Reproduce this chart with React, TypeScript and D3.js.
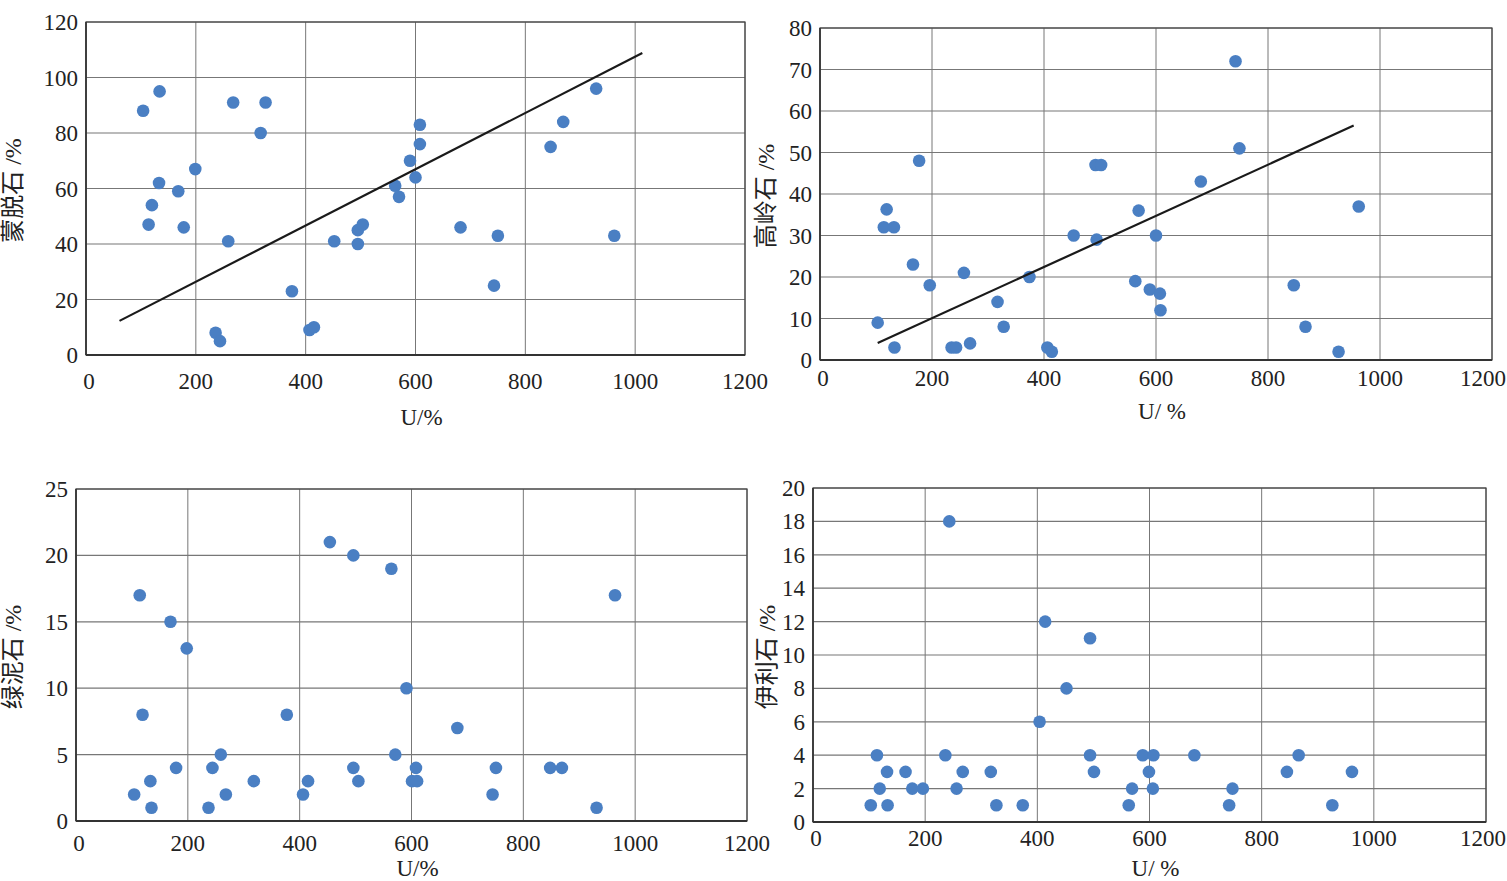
import React, { useEffect, useRef } from 'react';
import * as d3 from 'd3';

// 蒙脱石 (montmorillonite) vs U
const montU = [104, 134, 268, 327, 318, 608, 608, 590, 600, 563, 570, 199, 133, 168, 120, 114, 178, 259, 452, 495, 504, 495, 682, 750, 962, 743, 846, 869, 929, 375, 236, 244, 407, 415];
const montV = [88, 95, 91, 91, 80, 83, 76, 70, 64, 61, 57, 67, 62, 59, 54, 47, 46, 41, 41, 45, 47, 40, 46, 43, 43, 25, 75, 84, 96, 23, 8, 5, 9, 10];
const montTrend = [[61, 12.3], [1013, 108.8]];

// 高岭石 (kaolinite) vs U
const kaolU = [742, 749, 492, 502, 177, 680, 962, 569, 119, 114, 132, 453, 494, 600, 166, 257, 374, 196, 563, 589, 607, 608, 846, 317, 103, 328, 867, 133, 235, 243, 268, 406, 414, 926];
const kaolV = [72, 51, 47, 47, 48, 43, 37, 36, 36.3, 32, 32, 30, 29, 30, 23, 21, 20, 18, 19, 17, 16, 12, 18, 14, 9, 8, 8, 3, 3, 3, 4, 3, 2, 2];
const kaolTrend = [[103, 4.1], [953, 56.5]];

// 绿泥石 (chlorite) vs U
const chloU = [114, 169, 198, 454, 496, 564, 964, 591, 119, 377, 682, 259, 571, 179, 244, 496, 608, 751, 848, 869, 133, 318, 415, 505, 601, 610, 104, 268, 406, 745, 135, 237, 931];
const chloV = [17, 15, 13, 21, 20, 19, 17, 10, 8, 8, 7, 5, 5, 4, 4, 4, 4, 4, 4, 4, 3, 3, 3, 3, 3, 3, 2, 2, 2, 2, 1, 1, 1];

// 伊利石 (illite) vs U
const illU = [243, 414, 494, 452, 404, 114, 236, 494, 588, 607, 680, 866, 132, 165, 267, 317, 501, 599, 845, 961, 119, 177, 196, 256, 569, 606, 748, 103, 133, 327, 374, 563, 742, 926];
const illV = [18, 12, 11, 8, 6, 4, 4, 4, 4, 4, 4, 4, 3, 3, 3, 3, 3, 3, 3, 3, 2, 2, 2, 2, 2, 2, 2, 1, 1, 1, 1, 1, 1, 1];

const xTicks = [0, 200, 400, 600, 800, 1000, 1200];

const FONT = "'Liberation Serif', 'DejaVu Serif', 'Noto Sans CJK SC', serif";
const DOT = '#4a7fc3';

interface Panel {
  u: number[];
  v: number[];
  trend?: number[][];
  yMax: number;
  yStep: number;
  yTitle: string;
  xTitle: string;
  box: { l: number; r: number; t: number; b: number };
  xLabelY: number;
  xTitleY: number;
  yTitleX: number;
}

const panels: Panel[] = [
  {
    u: montU, v: montV, trend: montTrend, yMax: 120, yStep: 20,
    yTitle: '蒙脱石 /%', xTitle: 'U/%',
    box: { l: 86, r: 745, t: 22, b: 355 }, xLabelY: 389, xTitleY: 425, yTitleX: 13,
  },
  {
    u: kaolU, v: kaolV, trend: kaolTrend, yMax: 80, yStep: 10,
    yTitle: '高岭石 /%', xTitle: 'U/ %',
    box: { l: 820, r: 1492, t: 28, b: 360 }, xLabelY: 386, xTitleY: 419, yTitleX: 766,
  },
  {
    u: chloU, v: chloV, yMax: 25, yStep: 5,
    yTitle: '绿泥石 /%', xTitle: 'U/%',
    box: { l: 76, r: 747, t: 489, b: 821 }, xLabelY: 851, xTitleY: 876, yTitleX: 13,
  },
  {
    u: illU, v: illV, yMax: 20, yStep: 2,
    yTitle: '伊利石 /%', xTitle: 'U/ %',
    box: { l: 813, r: 1486, t: 488, b: 822 }, xLabelY: 846, xTitleY: 876, yTitleX: 767,
  },
];

export default function App() {
  const svgRef = useRef<SVGSVGElement>(null);

  useEffect(() => {
    if (!svgRef.current) return;
    const svg = d3.select(svgRef.current);
    svg.selectAll('*').remove();

    panels.forEach((p) => {
      const { l, r, t, b } = p.box;
      const x = d3.scaleLinear().domain([0, 1200]).range([l, r]);
      const y = d3.scaleLinear().domain([0, p.yMax]).range([b, t]);
      const yTicks = d3.range(0, p.yMax + 0.001, p.yStep);
      const g = svg.append('g');

      // grid
      g.selectAll('.hg')
        .data(yTicks)
        .enter()
        .append('line')
        .attr('x1', l).attr('x2', r)
        .attr('y1', (d) => y(d)).attr('y2', (d) => y(d))
        .attr('stroke', '#777')
        .attr('stroke-width', 1.2);
      g.selectAll('.vg')
        .data(xTicks)
        .enter()
        .append('line')
        .attr('x1', (d) => x(d)).attr('x2', (d) => x(d))
        .attr('y1', t).attr('y2', b)
        .attr('stroke', '#777')
        .attr('stroke-width', 1);

      // frame
      g.append('rect')
        .attr('x', l).attr('y', t)
        .attr('width', r - l).attr('height', b - t)
        .attr('fill', 'none')
        .attr('stroke', '#444')
        .attr('stroke-width', 1.2);
      g.append('line')
        .attr('x1', l).attr('x2', r).attr('y1', b).attr('y2', b)
        .attr('stroke', '#333').attr('stroke-width', 2);
      g.append('line')
        .attr('x1', l).attr('x2', l).attr('y1', t).attr('y2', b)
        .attr('stroke', '#333').attr('stroke-width', 1.6);

      // tick labels
      g.selectAll('.yl')
        .data(yTicks)
        .enter()
        .append('text')
        .attr('x', l - 8)
        .attr('y', (d) => y(d) + 8)
        .attr('text-anchor', 'end')
        .style('font-family', FONT)
        .style('font-size', '23px')
        .attr('fill', '#222')
        .text((d) => d);
      g.selectAll('.xl')
        .data(xTicks)
        .enter()
        .append('text')
        .attr('x', (d) => (x(d) + 26 > 1507 ? 1506 : x(d) + (d === 0 ? 3 : 0)))
        .attr('y', p.xLabelY)
        .attr('text-anchor', (d) => (x(d) + 26 > 1507 ? 'end' : 'middle'))
        .style('font-family', FONT)
        .style('font-size', '23px')
        .attr('fill', '#222')
        .text((d) => d);

      // axis titles
      g.append('text')
        .attr('x', (l + r) / 2 + 6)
        .attr('y', p.xTitleY)
        .attr('text-anchor', 'middle')
        .style('font-family', FONT)
        .style('font-size', '23px')
        .attr('fill', '#222')
        .text(p.xTitle);
      g.append('text')
        .attr('transform', `translate(${p.yTitleX + 8},${(t + b) / 2 + 2}) rotate(-90)`)
        .attr('text-anchor', 'middle')
        .style('font-family', FONT)
        .style('font-size', '24px')
        .attr('fill', '#222')
        .text(p.yTitle);

      // points
      g.selectAll('.pt')
        .data(p.u.map((u, i) => [u, p.v[i]]))
        .enter()
        .append('circle')
        .attr('cx', (d) => x(d[0]))
        .attr('cy', (d) => y(d[1]))
        .attr('r', 6.3)
        .attr('fill', DOT);

      // trend line
      if (p.trend) {
        const line = d3.line<number[]>()
          .x((d) => x(d[0]))
          .y((d) => y(d[1]));
        g.append('path')
          .attr('d', line(p.trend))
          .attr('fill', 'none')
          .attr('stroke', '#1a1a1a')
          .attr('stroke-width', 2.2);
      }
    });
  }, []);

  return (
    <div style={{ position: 'absolute', left: 0, top: 0, background: '#fff' }}>
      <svg ref={svgRef} width={1507} height={881} viewBox="0 0 1507 881" />
    </div>
  );
}
